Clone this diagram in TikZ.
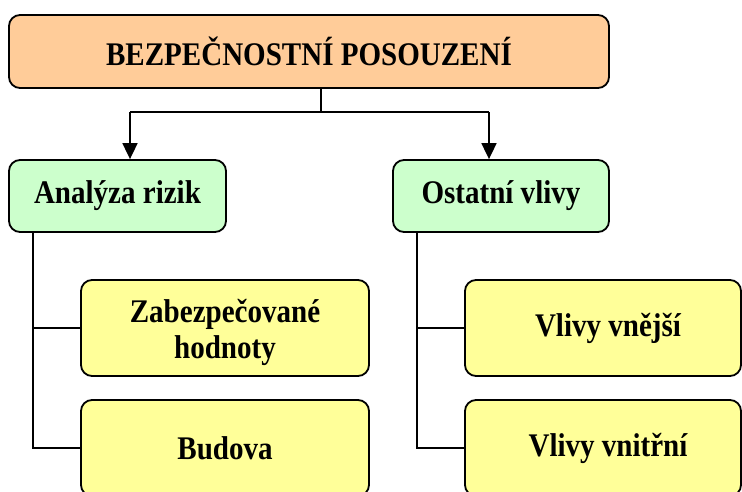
\documentclass[tikz,border=0pt]{standalone}
\usepackage{fontspec}
% slightly condensed serif, set large, for the tall bold labels
\setmainfont{Liberation Serif}[FakeStretch=0.88]
\usetikzlibrary{arrows.meta}
\definecolor{peach}{HTML}{FFCC99}
\definecolor{mint}{HTML}{CCFFCC}
\definecolor{lemon}{HTML}{FFFF99}
\tikzset{
  box/.style={draw=black, line width=1.8pt, rounded corners=11pt, inner sep=0pt,
              align=center, font=\fontsize{33}{36}\selectfont\bfseries},
  link/.style={draw=black, line width=1.8pt},
  arrowlink/.style={link, -{Triangle[width=15pt,length=16pt]}},
}
\begin{document}
\begin{tikzpicture}[x=1pt, y=-1pt]
  \useasboundingbox (0,0) rectangle (742,491);
  \clip (0,0) rectangle (742,491);

  % main heading
  \node[box, fill=peach, minimum width=600pt, minimum height=73pt] (top) at (309,51.5) {BEZPEČNOSTNÍ POSOUZENÍ};

  % second level
  \node[box, fill=mint, minimum width=217pt, minimum height=72pt] (an) at (117.5,196) {Analýza rizik};
  \node[box, fill=mint, minimum width=216pt, minimum height=72pt] (ot) at (501,196) {Ostatní vlivy};

  % third level
  \node[box, fill=lemon, minimum width=288pt, minimum height=96pt] (zab) at (225,328) {};
  \node[font=\fontsize{33}{36}\selectfont\bfseries, align=center, inner sep=0pt] (zabtext) at (zab.center) [yshift=-4pt] {Zabezpečované\\hodnoty};
  \node[box, fill=lemon, minimum width=288pt, minimum height=96pt] (bud) at (225,448) {Budova};
  \node[box, fill=lemon, minimum width=276pt, minimum height=96pt] (vne) at (603,328) {};
  \node[font=\fontsize{33}{36}\selectfont\bfseries, inner sep=0pt] (vnetext) at (vne.center) [xshift=5pt] {Vlivy vnější};
  \node[box, fill=lemon, minimum width=276pt, minimum height=96pt] (vni) at (603,448) {};
  \node[font=\fontsize{33}{36}\selectfont\bfseries, inner sep=0pt] (vnitext) at (vni.center) [xshift=5pt] {Vlivy vnitřní};

  % split below the heading
  \coordinate (hub) at (321,112);
  \coordinate (la) at (130,112);
  \coordinate (ra) at (489,112);
  \draw[link] (top.south -| hub) -- (hub);
  \draw[link] (la) -- (ra);
  \draw[arrowlink] (la) -- (la |- an.north);
  \draw[arrowlink] (ra) -- (ra |- ot.north);

  % branches on the left
  \coordinate (lv) at (33,0);
  \draw[link] (an.south -| lv) |- (bud.west);
  \draw[link] (lv |- zab.west) -- (zab.west);

  % branches on the right
  \coordinate (rv) at (417,0);
  \draw[link] (ot.south -| rv) |- (vni.west);
  \draw[link] (rv |- vne.west) -- (vne.west);
\end{tikzpicture}
\end{document}
